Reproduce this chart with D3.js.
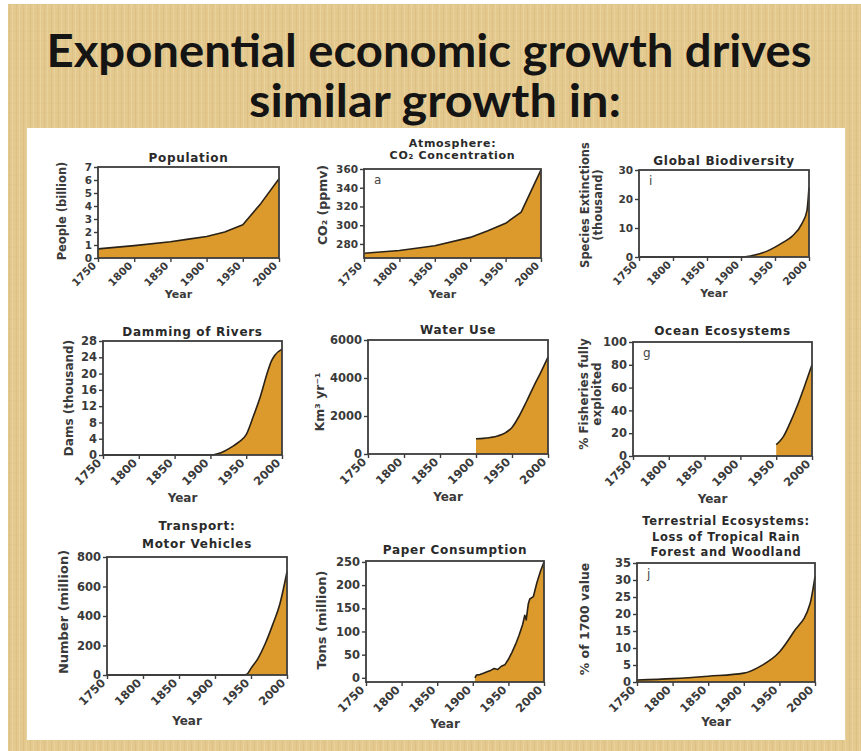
<!DOCTYPE html>
<html><head><meta charset="utf-8">
<script src="https://cdn.jsdelivr.net/npm/d3@7"></script>
<style>
html,body{margin:0;padding:0;background:#fff;}
svg{display:block;}
</style></head>
<body>
<svg id="chart" width="861" height="751"></svg>
<script>
// ---------------- DATA ----------------
const xTickYears = [1750, 1800, 1850, 1900, 1950, 2000];

const popYears  = [1750, 1800, 1850, 1875, 1900, 1925, 1950, 1975, 2000];
const popValues = [0.7, 0.95, 1.25, 1.45, 1.65, 2.0, 2.55, 4.2, 6.1];
const popTicks  = [0, 1, 2, 3, 4, 5, 6, 7];

const co2Years  = [1750, 1800, 1850, 1900, 1925, 1950, 1972, 2000];
const co2Values = [270, 273, 278, 287, 294, 302, 314, 359];
const co2Ticks  = [280, 300, 320, 340, 360];

const bioYears  = [1750, 1900, 1920, 1940, 1950, 1960, 1975, 1990, 1997, 2000];
const bioValues = [0, 0, 0.7, 2.2, 3.4, 4.8, 7.1, 11.7, 16, 24];
const bioTicks  = [0, 10, 20, 30];

const damYears  = [1750, 1900, 1910, 1920, 1930, 1940, 1950, 1960, 1970, 1980, 1985, 1990, 2000];
const damValues = [0, 0, 0.3, 1, 2, 3.2, 5, 9.5, 14.5, 20.5, 23, 24.5, 26];
const damTicks  = [0, 4, 8, 12, 16, 20, 24, 28];

const waterYears  = [1900, 1910, 1920, 1930, 1940, 1950, 1960, 1970, 1980, 1990, 2000];
const waterValues = [800, 820, 870, 950, 1100, 1400, 2000, 2750, 3550, 4300, 5100];
const waterTicks  = [0, 2000, 4000, 6000];

const oceanYears  = [1950, 1955, 1960, 1970, 1980, 1990, 2000];
const oceanValues = [10, 13, 17, 30, 45, 62, 80];
const oceanTicks  = [0, 20, 40, 60, 80, 100];

const carYears  = [1750, 1940, 1945, 1950, 1960, 1970, 1980, 1990, 2000];
const carValues = [0, 0, 8, 45, 115, 215, 340, 480, 700];
const carTicks  = [0, 200, 400, 600, 800];

const paperYears  = [1903, 1905, 1910, 1915, 1920, 1925, 1930, 1935, 1940, 1945, 1950, 1955, 1960, 1965, 1970, 1973, 1975, 1978, 1980, 1985, 1990, 1995, 2000];
const paperValues = [0, 6, 7, 10, 13, 16, 20, 18, 25, 28, 40, 55, 72, 92, 115, 135, 125, 160, 170, 175, 205, 230, 250];
const paperTicks  = [0, 50, 100, 150, 200, 250];

const forestYears  = [1750, 1800, 1850, 1900, 1923, 1950, 1970, 1993, 2000];
const forestValues = [0.6, 1.0, 1.7, 2.6, 4.6, 8.8, 14.7, 23, 31];
const forestTicks  = [0, 5, 10, 15, 20, 25, 30, 35];

const titleLines = ["Exponential economic growth drives", "similar growth in:"];

// ---------------- LAYOUT ----------------
// box: [left, right, top, bottom]; tOff: title baseline offset above frame; tGap: title line spacing
const panels = [
  {years: popYears, values: popValues, ticks: popTicks, domain: [0, 7], smooth: false,
   box: [98, 279, 167, 258], title: ["Population"], tOff: 5, tGap: 13, tSize: 12,
   ylab: ["People (billion)"], ylabX: [62], ylabY: 211, ylabSize: 11.5, tick: 10.5, yearOff: 40, letter: null},
  {years: co2Years, values: co2Values, ticks: co2Ticks, domain: [265, 360], smooth: false,
   box: [364, 541, 169, 258], title: ["Atmosphere:", "CO₂ Concentration"], tOff: 10, tGap: 12, tSize: 11,
   ylab: ["CO₂ (ppmv)"], ylabX: [323], ylabY: 205, ylabSize: 12.5, tick: 10.5, yearOff: 40, letter: "a"},
  {years: bioYears, values: bioValues, ticks: bioTicks, domain: [0, 30], smooth: true,
   box: [639, 809, 170, 257], title: ["Global Biodiversity"], tOff: 5, tGap: 13, tSize: 12,
   ylab: ["Species Extinctions", "(thousand)"], ylabX: [585, 598], ylabY: 205, ylabSize: 11.5, tick: 10.5, yearOff: 40, letter: "i"},
  {years: damYears, values: damValues, ticks: damTicks, domain: [0, 28], smooth: true,
   box: [103, 282, 341, 455], title: ["Damming of Rivers"], tOff: 5, tGap: 13, tSize: 12,
   ylab: ["Dams (thousand)"], ylabX: [69], ylabY: 398, ylabSize: 12, tick: 11.5, yearOff: 47, letter: null},
  {years: waterYears, values: waterValues, ticks: waterTicks, domain: [0, 6000], smooth: true,
   box: [368, 548, 340, 454], title: ["Water Use"], tOff: 6, tGap: 13, tSize: 12,
   ylab: ["Km³ yr⁻¹"], ylabX: [320], ylabY: 402, ylabSize: 12.5, tick: 11.5, yearOff: 47, letter: null},
  {years: oceanYears, values: oceanValues, ticks: oceanTicks, domain: [0, 100], smooth: true,
   box: [633, 812, 342, 456], title: ["Ocean Ecosystems"], tOff: 7, tGap: 13, tSize: 12,
   ylab: ["% Fisheries fully", "exploited"], ylabX: [584, 597], ylabY: 394, ylabSize: 12, tick: 11.5, yearOff: 47, letter: "g"},
  {years: carYears, values: carValues, ticks: carTicks, domain: [0, 800], smooth: true,
   box: [107, 287, 557, 675], title: ["Transport:", "Motor Vehicles"], tOff: 9, tGap: 18, tSize: 12,
   ylab: ["Number (million)"], ylabX: [63], ylabY: 612, ylabSize: 13, tick: 11.5, yearOff: 50, letter: null},
  {years: paperYears, values: paperValues, ticks: paperTicks, domain: [-9, 252], smooth: false,
   box: [366, 544, 561, 682], title: ["Paper Consumption"], tOff: 7, tGap: 13, tSize: 12,
   ylab: ["Tons (million)"], ylabX: [321], ylabY: 620, ylabSize: 13, tick: 11.5, yearOff: 46, letter: null},
  {years: forestYears, values: forestValues, ticks: forestTicks, domain: [0, 35], smooth: true,
   box: [637, 815, 563, 682], title: ["Terrestrial Ecosystems:", "Loss of Tropical Rain", "Forest and Woodland"], tOff: 7, tGap: 15.5, tSize: 11.5,
   ylab: ["% of 1700 value"], ylabX: [585], ylabY: 619, ylabSize: 12.5, tick: 11.5, yearOff: 44, letter: "j"}
];

const FILL = "#dc9a2c", LINE = "#2a2216", FRAME = "#3c3c3c", TXT = "#3a3a3a";
const FONT = "'DejaVu Sans', sans-serif";

const svg = d3.select("#chart");
const defs = svg.append("defs");
const pat = defs.append("pattern").attr("id", "tex").attr("patternUnits", "userSpaceOnUse")
  .attr("width", 7).attr("height", 9);
pat.append("rect").attr("width", 7).attr("height", 9).attr("fill", "#e4c98e");
pat.append("rect").attr("x", 2).attr("width", 1).attr("height", 9).attr("fill", "#d9bc80").attr("opacity", 0.6);
pat.append("rect").attr("x", 5).attr("width", 1).attr("height", 9).attr("fill", "#eed8a8").attr("opacity", 0.6);
pat.append("rect").attr("y", 4).attr("width", 7).attr("height", 1).attr("fill", "#dcc187").attr("opacity", 0.35);

svg.append("rect").attr("width", 861).attr("height", 751).attr("fill", "#fff");
svg.append("rect").attr("x", 8).attr("y", 4).attr("width", 853).attr("height", 747).attr("fill", "url(#tex)");

// main title
svg.append("text").attr("x", 429).attr("y", 67).attr("text-anchor", "middle")
  .attr("font-family", "Lato, 'Open Sans', sans-serif").attr("font-weight", "bold")
  .attr("font-size", 46).attr("fill", "#141414")
  .attr("textLength", 765).attr("lengthAdjust", "spacingAndGlyphs").text(titleLines[0]);
svg.append("text").attr("x", 435).attr("y", 117).attr("text-anchor", "middle")
  .attr("font-family", "Lato, 'Open Sans', sans-serif").attr("font-weight", "bold")
  .attr("font-size", 46).attr("fill", "#141414")
  .attr("textLength", 372).attr("lengthAdjust", "spacingAndGlyphs").text(titleLines[1]);

// white panel
svg.append("rect").attr("x", 27).attr("y", 128).attr("width", 818).attr("height", 612).attr("fill", "#fff");

panels.forEach(p => {
  const [x0, x1, y0, y1] = p.box;
  const g = svg.append("g");
  const x = d3.scaleLinear().domain([1750, 2000]).range([x0, x1]);
  const y = d3.scaleLinear().domain(p.domain).range([y1, y0]);
  const pts = p.years.map((yr, i) => [yr, p.values[i]]);
  const curve = p.smooth ? d3.curveMonotoneX : d3.curveLinear;

  const area = d3.area().curve(curve).x(d => x(d[0])).y0(y1).y1(d => y(d[1]));
  const line = d3.line().curve(curve).x(d => x(d[0])).y(d => y(d[1]));
  g.append("path").attr("d", area(pts)).attr("fill", FILL);
  g.append("path").attr("d", line(pts)).attr("fill", "none").attr("stroke", LINE)
    .attr("stroke-width", 1.6).attr("stroke-linejoin", "round");

  g.append("rect").attr("x", x0).attr("y", y0).attr("width", x1 - x0).attr("height", y1 - y0)
    .attr("fill", "none").attr("stroke", FRAME).attr("stroke-width", 1.8);

  const ya = g.append("g").attr("transform", `translate(${x0},0)`)
    .call(d3.axisLeft(y).tickValues(p.ticks).tickSize(4).tickPadding(2).tickFormat(d3.format("d")));
  ya.select(".domain").remove();
  ya.selectAll("line").attr("stroke", FRAME).attr("stroke-width", 1.4);
  ya.selectAll("text").attr("font-family", FONT).attr("font-weight", "bold")
    .attr("font-size", p.tick).attr("fill", TXT);

  const xa = g.append("g").attr("transform", `translate(0,${y1})`)
    .call(d3.axisBottom(x).tickValues(xTickYears).tickSize(4).tickFormat(d3.format("d")));
  xa.select(".domain").remove();
  xa.selectAll("line").attr("stroke", FRAME).attr("stroke-width", 1.4);
  xa.selectAll("text").attr("font-family", FONT).attr("font-weight", "bold")
    .attr("font-size", p.tick).attr("fill", TXT)
    .attr("text-anchor", "end").attr("x", -7).attr("y", 1).attr("dy", "0.35em")
    .attr("transform", "rotate(-45)");

  // Year label
  g.append("text").attr("x", (x0 + x1) / 2 - 10).attr("y", y1 + p.yearOff)
    .attr("text-anchor", "middle").attr("font-family", FONT).attr("font-weight", "bold")
    .attr("font-size", p.tick + 0.5).attr("fill", TXT).text("Year");

  // title
  const n = p.title.length;
  p.title.forEach((t, i) => {
    g.append("text").attr("x", (x0 + x1) / 2).attr("y", y0 - p.tOff - (n - 1 - i) * p.tGap)
      .attr("text-anchor", "middle").attr("font-family", FONT).attr("font-weight", "bold")
      .attr("font-size", p.tSize).attr("letter-spacing", 0.7).attr("fill", "#2a2a2a").text(t);
  });

  // y label
  p.ylab.forEach((lab, i) => {
    g.append("text").attr("transform", `translate(${p.ylabX[i]},${p.ylabY}) rotate(-90)`)
      .attr("text-anchor", "middle").attr("dy", "0.35em").attr("font-family", FONT).attr("font-weight", "bold")
      .attr("font-size", p.ylabSize).attr("fill", TXT).text(lab);
  });

  if (p.letter) {
    g.append("text").attr("x", x0 + 10).attr("y", y0 + 15).attr("font-family", FONT)
      .attr("font-size", 12).attr("fill", "#444").text(p.letter);
  }
});
</script>
</body></html>
